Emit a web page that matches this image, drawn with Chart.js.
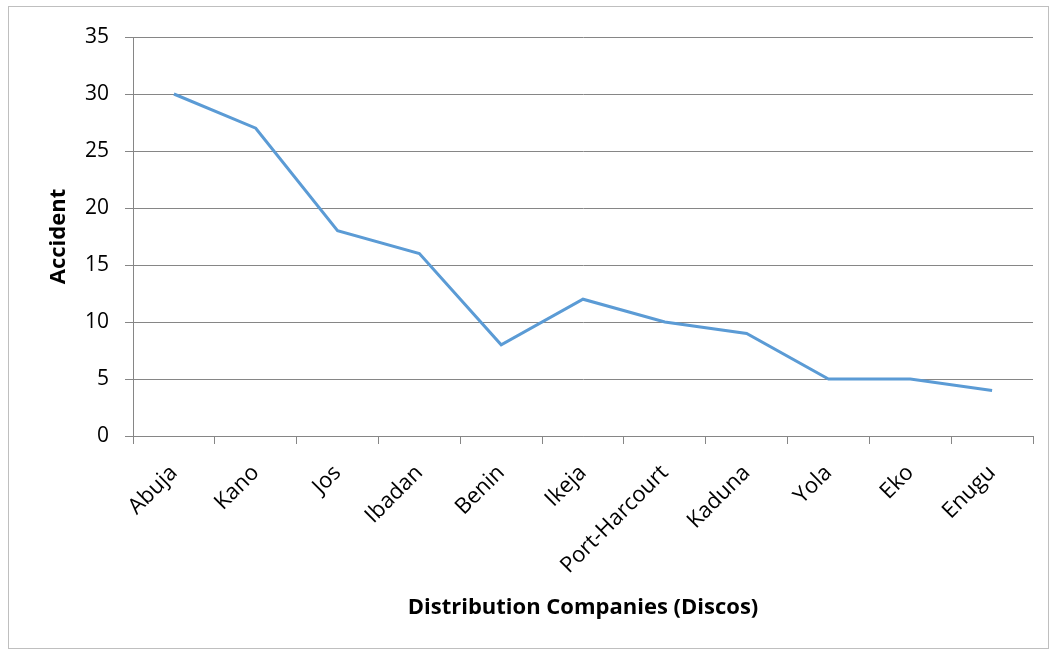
<!DOCTYPE html>
<html>
<head>
<meta charset="utf-8">
<title>Accident by Distribution Company</title>
<script src="https://cdn.jsdelivr.net/npm/chart.js@4/dist/chart.umd.min.js"></script>
<style>
  html, body { margin: 0; padding: 0; background: #fff; }
  #wrap { position: relative; width: 1053px; height: 652px; }
</style>
</head>
<body>
<div id="wrap"><canvas id="lineChart" width="1053" height="652"></canvas></div>
<script>
const discos = ['Abuja', 'Kano', 'Jos', 'Ibadan', 'Benin', 'Ikeja', 'Port-Harcourt', 'Kaduna', 'Yola', 'Eko', 'Enugu'];
const accidents = [30, 27, 18, 16, 8, 12, 10, 9, 5, 5, 4];
const yTicks = [0, 5, 10, 15, 20, 25, 30, 35];

const FONT = '"Open Sans", "Liberation Sans", sans-serif';
const GRID = '#868686';

// outer frame around the whole chart
const frame = {
  id: 'frame',
  beforeDraw(chart) {
    const ctx = chart.ctx;
    ctx.save();
    ctx.strokeStyle = '#bfbfbf';
    ctx.lineWidth = 1;
    ctx.strokeRect(8.5, 6.5, 1040, 642);
    ctx.restore();
  }
};

const ctx = document.getElementById('lineChart').getContext('2d');
new Chart(ctx, {
  type: 'line',
  data: {
    labels: discos,
    datasets: [{
      label: 'Accident',
      data: accidents,
      borderColor: '#5b9bd5',
      borderWidth: 3,
      pointRadius: 0,
      tension: 0,
      fill: false
    }]
  },
  options: {
    responsive: false,
    animation: false,
    layout: { padding: { left: 42, top: 37, right: 20, bottom: 27 } },
    plugins: {
      legend: { display: false },
      tooltip: { enabled: false }
    },
    scales: {
      x: {
        offset: true,
        grid: {
          offset: true,
          drawOnChartArea: false,
          drawTicks: true,
          tickLength: 8,
          color: GRID
        },
        border: { color: GRID, width: 1 },
        ticks: {
          autoSkip: false,
          minRotation: 45,
          maxRotation: 45,
          padding: 16,
          color: '#000',
          font: { family: FONT, size: 22 }
        },
        title: {
          display: true,
          text: 'Distribution Companies (Discos)',
          color: '#000',
          font: { family: FONT, size: 22, weight: 'bold' }
        },
        afterFit(scale) { scale.height = 189; }
      },
      y: {
        min: 0,
        max: 35,
        afterBuildTicks(scale) { scale.ticks = yTicks.map(v => ({ value: v })); },
        grid: { color: GRID, tickLength: 8 },
        border: { color: GRID, width: 1 },
        ticks: {
          padding: 16,
          color: '#000',
          font: { family: FONT, size: 21 }
        },
        title: {
          display: true,
          text: 'Accident',
          color: '#000',
          font: { family: FONT, size: 22, weight: 'bold' }
        },
        afterFit(scale) { scale.width = 91; }
      }
    }
  },
  plugins: [frame]
});
</script>
</body>
</html>
